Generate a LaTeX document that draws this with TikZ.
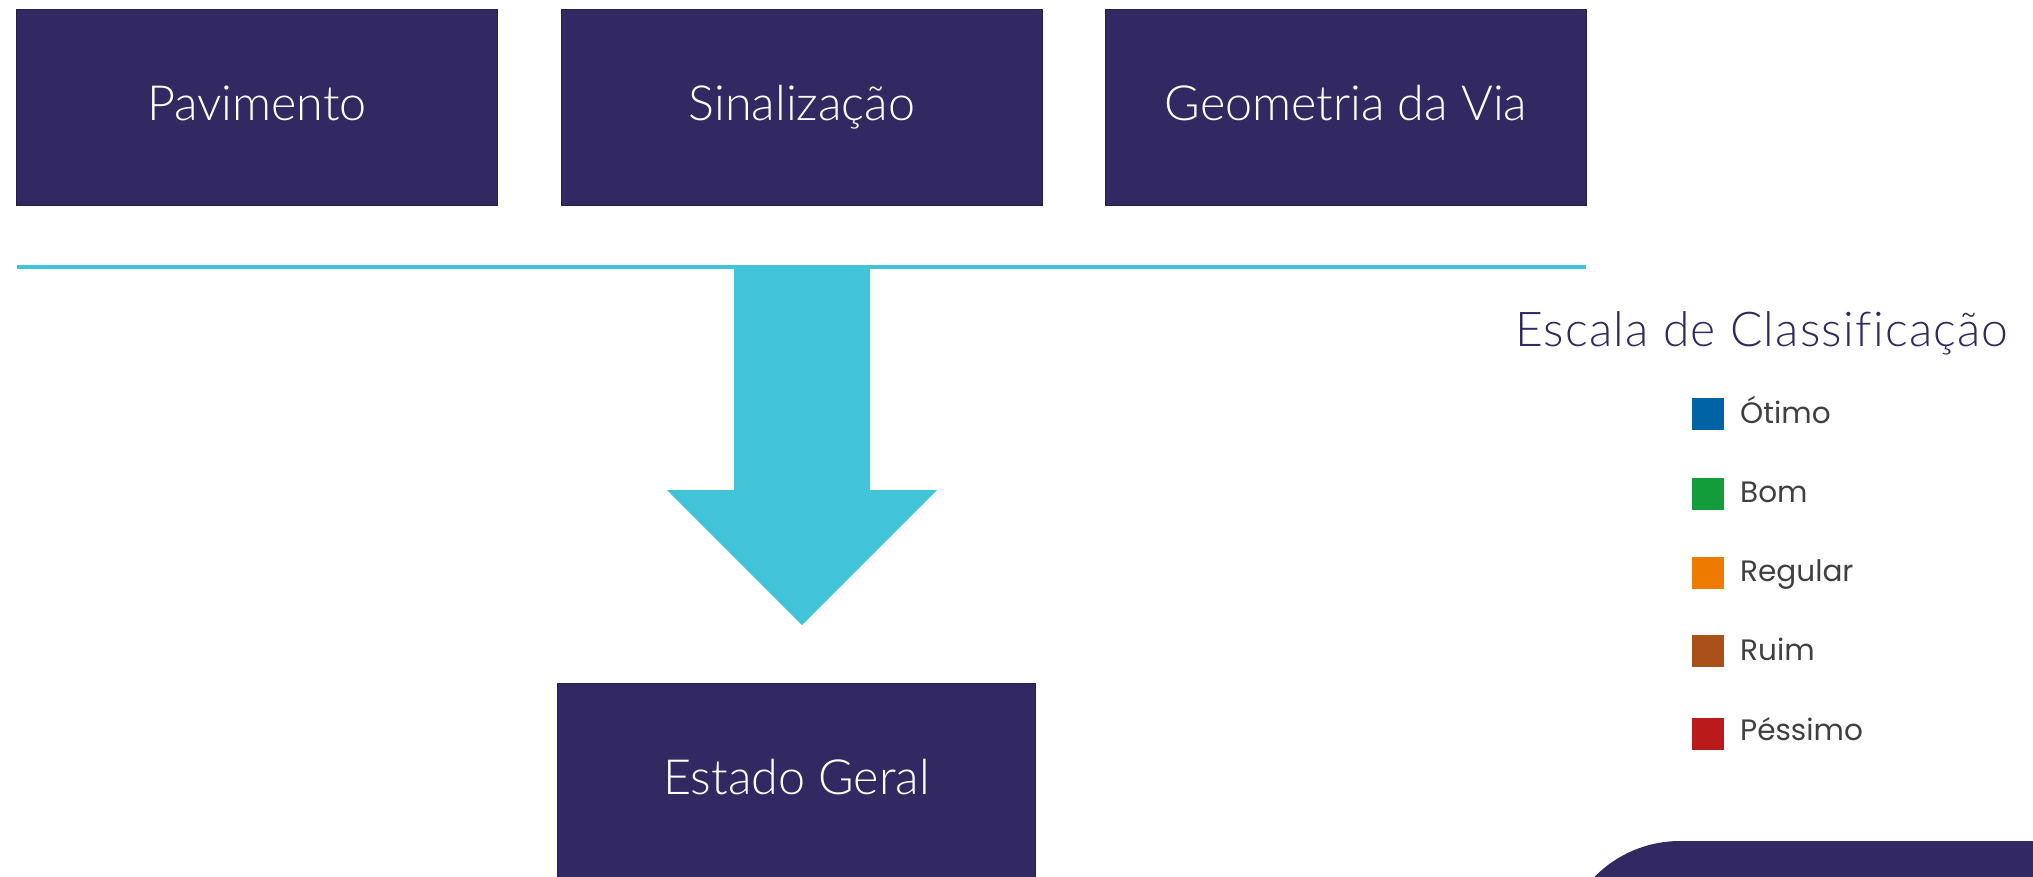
\documentclass[tikz,border=0pt]{standalone}
\usepackage{fontspec}
\newfontfamily\boxfont{Lato Light}
\newfontfamily\titlefont[LetterSpace=2.6,Ligatures=NoCommon]{Lato Light}
\newfontfamily\legfont{Poppins}
\definecolor{navy}{HTML}{332962}
\definecolor{cyanc}{HTML}{42C4D8}
\definecolor{legtext}{HTML}{404040}
\definecolor{cOtimo}{HTML}{0063A3}
\definecolor{cBom}{HTML}{129C3A}
\definecolor{cRegular}{HTML}{EE7A00}
\definecolor{cRuim}{HTML}{AA5119}
\definecolor{cPessimo}{HTML}{BB1A1A}
\tikzset{
  stagebox/.style={fill=navy, draw=navy!70!black, line width=1pt, minimum width=481pt, minimum height=196pt,
    inner sep=0pt, text=white, text height=26pt, text depth=0pt, anchor=north west,
    font=\boxfont\fontsize{48.5}{56}\selectfont},
  legsq/.style={fill=#1, draw=none, minimum size=32pt, inner sep=0pt},
  leglabel/.style={anchor=base west, inner sep=0pt, text=legtext, font=\legfont\fontsize{29.5}{34}\selectfont},
}
\begin{document}
\begin{tikzpicture}[x=1pt,y=-1pt]
\useasboundingbox (0,0) rectangle (2033,876);
% top boxes
\node[stagebox] (pav) at (16,9) {Pavimento};
\node[stagebox] (sin) at (561,9) {Sinalização};
\node[stagebox] (geo) at (1105,9) {Geometria da Via};
% horizontal line
\coordinate (lineL) at (17,267);
\coordinate (lineR) at (1586,267);
\draw[cyanc, line width=4pt] (lineL) -- (lineR);
% bottom box
\node[stagebox, minimum width=478pt] (est) at (557,683) {Estado Geral};
% big arrow
\coordinate (tip) at (802,625);
\fill[cyanc] (734,267) -- (870,267) -- (870,490) -- (937,490) -- (tip) -- (667,490) -- (734,490) -- cycle;
% legend
\node[anchor=base west, inner sep=0pt, text=navy, font=\titlefont\fontsize{48}{56}\selectfont] (title) at (1515,346) {Escala de Classificação};
\node[legsq=cOtimo] (s1) at (1708,414) {};
\node[legsq=cBom] (s2) at (1708,494) {};
\node[legsq=cRegular] (s3) at (1708,573) {};
\node[legsq=cRuim] (s4) at (1708,651) {};
\node[legsq=cPessimo] (s5) at (1708,734) {};
\node[leglabel] (l1) at (1740,423) {Ótimo};
\node[leglabel] (l2) at (1740,502) {Bom};
\node[leglabel] (l3) at (1740,581) {Regular};
\node[leglabel] (l4) at (1740,660) {Ruim};
\node[leglabel] (l5) at (1740,740) {Péssimo};
% bottom-right rounded shape
\fill[navy, rounded corners=120pt] (1560,841) rectangle (2300,1200);
\end{tikzpicture}
\end{document}
